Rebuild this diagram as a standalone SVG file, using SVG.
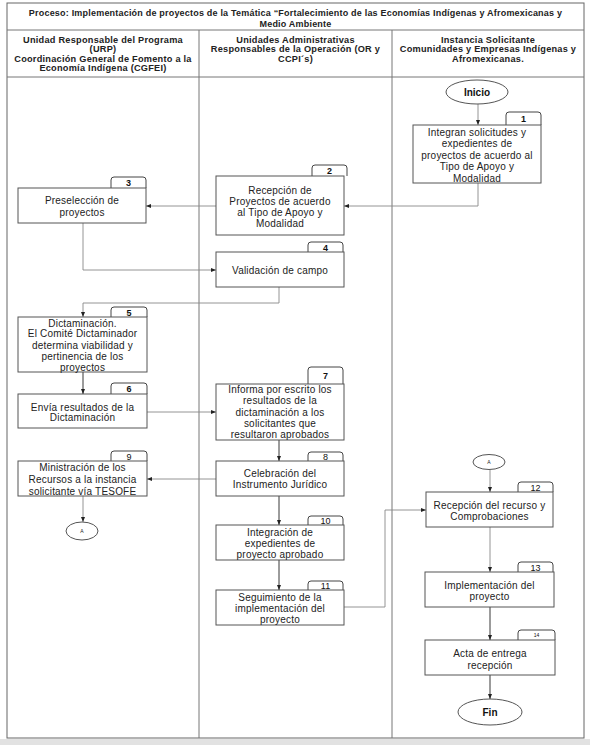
<svg xmlns="http://www.w3.org/2000/svg" width="590" height="745" viewBox="0 0 590 745" xml:space="preserve">
<style>
  .frame{fill:none;stroke:#666;stroke-width:1}
  .grid{stroke:#777;stroke-width:1;fill:none}
  .box{fill:#fff;stroke:#555;stroke-width:1}
  .tag{fill:#fff;stroke:#444;stroke-width:1}
  .t{font-family:"Liberation Sans",Arial,sans-serif;font-size:10px;letter-spacing:0.2px;fill:#222;text-anchor:middle}
  .tn{font-family:"Liberation Sans",Arial,sans-serif;font-size:9px;font-weight:bold;fill:#111;text-anchor:middle}
  .h{font-family:"Liberation Sans",Arial,sans-serif;font-size:9.2px;letter-spacing:0.25px;font-weight:bold;fill:#222;text-anchor:middle}
  .ttl{font-family:"Liberation Sans",Arial,sans-serif;font-size:9px;letter-spacing:0.2px;font-weight:bold;fill:#222;text-anchor:middle}
  .term{font-family:"Liberation Sans",Arial,sans-serif;font-size:10px;font-weight:bold;fill:#111;text-anchor:middle}
  .c{fill:none;stroke:#888;stroke-width:0.9}
  .cd{fill:none;stroke:#222;stroke-width:0.9}
</style>
<defs>
  <marker id="ah" markerUnits="userSpaceOnUse" markerWidth="5" markerHeight="4" refX="5" refY="2" orient="auto">
    <path d="M0,0 L5,2 L0,4 z" fill="#222"/>
  </marker>
</defs>
<rect x="0" y="0" width="590" height="745" fill="#fff"/>
<rect x="0" y="739" width="590" height="6" fill="#e2e2e2"/>
<g id="table">
  <rect class="frame" x="7" y="3" width="577" height="735"/>
  <line class="grid" x1="7" y1="30" x2="584" y2="30"/>
  <line class="grid" x1="7" y1="77" x2="584" y2="77"/>
  <line class="grid" x1="199" y1="30" x2="199" y2="738"/>
  <line class="grid" x1="392" y1="30" x2="392" y2="738"/>
  <text class="ttl" x="295.5" y="16">Proceso: Implementación de proyectos de la Temática “Fortalecimiento de las Economías Indígenas y Afromexicanas y</text>
  <text class="ttl" x="295.5" y="26.5">Medio Ambiente</text>
  <text class="h" x="103" y="42.5">Unidad Responsable del Programa</text>
  <text class="h" x="103" y="52">(URP)</text>
  <text class="h" x="103" y="61.5">Coordinación General de Fomento a la</text>
  <text class="h" x="103" y="71">Economía Indígena (CGFEI)</text>
  <text class="h" x="295.5" y="42.5">Unidades Administrativas</text>
  <text class="h" x="295.5" y="52">Responsables de la Operación (OR y</text>
  <text class="h" x="295.5" y="61.5">CCPI´s)</text>
  <text class="h" x="488" y="42.5">Instancia Solicitante</text>
  <text class="h" x="488" y="52">Comunidades y Empresas Indígenas y</text>
  <text class="h" x="488" y="61.5">Afromexicanas.</text>
</g>
<g id="connectors">
  <path class="c" d="M478,104 V125" marker-end="url(#ah)"/>
  <path class="c" d="M478,183 V206 H344" marker-end="url(#ah)"/>
  <path class="c" d="M216,206 H146" marker-end="url(#ah)"/>
  <path class="c" d="M83,223 V270 H216" marker-end="url(#ah)"/>
  <path class="c" d="M279,287 V303 H83 V317" marker-end="url(#ah)"/>
  <path class="cd" d="M83,372 V394" marker-end="url(#ah)"/>
  <path class="c" d="M147,412 H216" marker-end="url(#ah)"/>
  <path class="cd" d="M279,440 V461" marker-end="url(#ah)"/>
  <path class="c" d="M216,479 H147" marker-end="url(#ah)"/>
  <path class="c" d="M83,496 V522" marker-end="url(#ah)"/>
  <path class="cd" d="M279,496 V525" marker-end="url(#ah)"/>
  <path class="cd" d="M279,560 V590" marker-end="url(#ah)"/>
  <path class="c" d="M344,607 H385 V510 H426" marker-end="url(#ah)"/>
  <path class="c" d="M490,470 V492" marker-end="url(#ah)"/>
  <path class="c" d="M490,527 V572" marker-end="url(#ah)"/>
  <path class="cd" d="M490,607 V640" marker-end="url(#ah)"/>
  <path class="cd" d="M490,675 V699" marker-end="url(#ah)"/>
</g>
<g id="inicio">
  <ellipse class="box" cx="477" cy="92" rx="31" ry="12"/>
  <text class="term" x="477" y="95.5">Inicio</text>
</g>
<g id="n1">
  <path class="tag" d="M506,125 V115 Q506,112 509,112 H538 Q541,112 541,115 V125"/>
  <text class="tn" x="523.5" y="122">1</text>
  <rect class="box" x="413" y="125" width="128" height="58"/>
  <text class="t" x="477" y="135.5">Integran  solicitudes  y</text>
  <text class="t" x="477" y="147">expedientes  de</text>
  <text class="t" x="477" y="158.5">proyectos  de acuerdo al</text>
  <text class="t" x="477" y="170">Tipo de Apoyo  y</text>
  <text class="t" x="477" y="181.5">Modalidad</text>
</g>
<g id="n2">
  <path class="tag" d="M312,176 V168 Q312,165 315,165 H344 Q347,165 347,168 V176"/>
  <text class="tn" x="329.5" y="174">2</text>
  <rect class="box" x="216" y="176" width="128" height="59"/>
  <text class="t" x="280" y="193.5">Recepción  de</text>
  <text class="t" x="280" y="204.5">Proyectos  de acuerdo</text>
  <text class="t" x="280" y="215.5">al Tipo de Apoyo  y</text>
  <text class="t" x="280" y="226.5">Modalidad</text>
</g>
<g id="n3">
  <path class="tag" d="M111,188 V180 Q111,177 114,177 H143 Q146,177 146,180 V188"/>
  <text class="tn" x="128.5" y="186">3</text>
  <rect class="box" x="18" y="188" width="128" height="35"/>
  <text class="t" x="82" y="203.5">Preselección  de</text>
  <text class="t" x="82" y="215.5">proyectos</text>
</g>
<g id="n4">
  <path class="tag" d="M308,252 V245 Q308,242 311,242 H340 Q343,242 343,245 V252"/>
  <text class="tn" x="325.5" y="250.5">4</text>
  <rect class="box" x="216" y="252" width="128" height="35"/>
  <text class="t" x="280" y="273.5">Validación  de campo</text>
</g>
<g id="n5">
  <path class="tag" d="M111,317 V310 Q111,307 114,307 H144 Q147,307 147,310 V317"/>
  <text class="tn" x="129" y="315.5">5</text>
  <rect class="box" x="18" y="317" width="129" height="55"/>
  <text class="t" x="82.5" y="326.5">Dictaminación.</text>
  <text class="t" x="82.5" y="337">El Comité Dictaminador</text>
  <text class="t" x="82.5" y="348.5">determina  viabilidad  y</text>
  <text class="t" x="82.5" y="360">pertinencia  de los</text>
  <text class="t" x="82.5" y="370.5">proyectos</text>
</g>
<g id="n6">
  <path class="tag" d="M111,394 V386 Q111,383 114,383 H144 Q147,383 147,386 V394"/>
  <text class="tn" x="129" y="392">6</text>
  <rect class="box" x="18" y="394" width="129" height="34"/>
  <text class="t" x="82.5" y="410.5">Envía  resultados  de la</text>
  <text class="t" x="82.5" y="421">Dictaminación</text>
</g>
<g id="n7">
  <path class="tag" d="M308,384 V370 Q308,367 311,367 H340 Q343,367 343,370 V384"/>
  <text class="tn" x="325.5" y="378.5">7</text>
  <rect class="box" x="216" y="384" width="128" height="56"/>
  <text class="t" x="280" y="392.5">Informa  por escrito los</text>
  <text class="t" x="280" y="403.5">resultados  de la</text>
  <text class="t" x="280" y="415.5">dictaminación  a los</text>
  <text class="t" x="280" y="426.5">solicitantes  que</text>
  <text class="t" x="280" y="437.5">resultaron  aprobados</text>
</g>
<g id="n8">
  <path class="tag" d="M308,461 V455 Q308,452 311,452 H340 Q343,452 343,455 V461"/>
  <text class="tn" x="325.5" y="459.5" style="font-weight:normal">8</text>
  <rect class="box" x="216" y="461" width="128" height="35"/>
  <text class="t" x="280" y="476.5">Celebración  del</text>
  <text class="t" x="280" y="487.5">Instrumento  Jurídico</text>
</g>
<g id="n9">
  <path class="tag" d="M111,461 V454 Q111,451 114,451 H144 Q147,451 147,454 V461"/>
  <text class="tn" x="129" y="459.5" style="font-weight:normal">9</text>
  <rect class="box" x="18" y="461" width="129" height="35"/>
  <text class="t" x="82.5" y="470.5">Ministración  de los</text>
  <text class="t" x="82.5" y="482.5">Recursos  a la instancia</text>
  <text class="t" x="82.5" y="494.5">solicitante  vía TESOFE</text>
</g>
<g id="a1">
  <ellipse class="box" cx="82" cy="531" rx="16" ry="9"/>
  <text class="t" x="82" y="533" style="font-size:5px;letter-spacing:0">A</text>
</g>
<g id="n10">
  <path class="tag" d="M308,525 V519 Q308,516 311,516 H340 Q343,516 343,519 V525"/>
  <text class="tn" x="325.5" y="524" style="font-weight:normal">10</text>
  <rect class="box" x="216" y="525" width="128" height="35"/>
  <text class="t" x="280" y="535.5">Integración  de</text>
  <text class="t" x="280" y="546.5">expedientes  de</text>
  <text class="t" x="280" y="557.5">proyecto  aprobado</text>
</g>
<g id="n11">
  <path class="tag" d="M308,590 V584 Q308,581 311,581 H340 Q343,581 343,584 V590"/>
  <text class="tn" x="325.5" y="589" style="font-weight:normal">11</text>
  <rect class="box" x="216" y="590" width="128" height="35"/>
  <text class="t" x="280" y="600.5">Seguimiento  de la</text>
  <text class="t" x="280" y="611.5">implementación  del</text>
  <text class="t" x="280" y="622.5">proyecto</text>
</g>
<g id="a2">
  <ellipse class="box" cx="489" cy="462" rx="16" ry="7.5"/>
  <text class="t" x="489" y="464" style="font-size:5px;letter-spacing:0">A</text>
</g>
<g id="n12">
  <path class="tag" d="M518,492 V485 Q518,482 521,482 H550 Q553,482 553,485 V492"/>
  <text class="tn" x="535.5" y="490.5" style="font-weight:normal">12</text>
  <rect class="box" x="426" y="492" width="127" height="35"/>
  <text class="t" x="489.5" y="508.5">Recepción  del recurso  y</text>
  <text class="t" x="489.5" y="519.5">Comprobaciones</text>
</g>
<g id="n13">
  <path class="tag" d="M518,572 V565 Q518,562 521,562 H550 Q553,562 553,565 V572"/>
  <text class="tn" x="535.5" y="570.5" style="font-weight:normal">13</text>
  <rect class="box" x="425" y="572" width="129" height="35"/>
  <text class="t" x="489.5" y="588.5">Implementación  del</text>
  <text class="t" x="489.5" y="599.5">proyecto</text>
</g>
<g id="n14">
  <path class="tag" d="M518,640 V633 Q518,630 521,630 H552 Q555,630 555,633 V640"/>
  <text class="tn" x="536.5" y="637" style="font-size:5px;font-weight:normal">14</text>
  <rect class="box" x="425" y="640" width="130" height="35"/>
  <text class="t" x="490" y="656.5">Acta de entrega</text>
  <text class="t" x="490" y="668.5">recepción</text>
</g>
<g id="fin">
  <ellipse class="box" cx="490" cy="712" rx="32" ry="13"/>
  <text class="term" x="490" y="715.5">Fin</text>
</g>
</svg>
